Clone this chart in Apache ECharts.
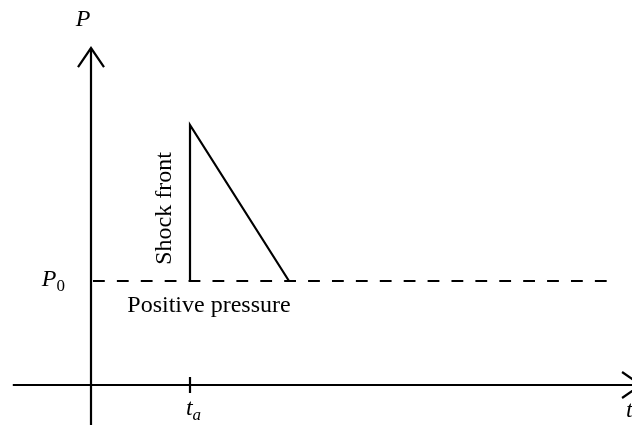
<!DOCTYPE html>
<html><head><meta charset="utf-8">
<script src="https://cdn.jsdelivr.net/npm/echarts@6/dist/echarts.min.js"></script>
<style>html,body{margin:0;padding:0;background:#fff}#c{width:632px;height:425px}</style>
</head><body><div id="c"></div>
<script>
// ---- data ----
const arrivalTime = 1;          // t_a
const positivePhaseEnd = 2;
const ambientPressure = 1;      // P0
const peakPressure = 2.5;
const profileT = [arrivalTime, arrivalTime, positivePhaseEnd];
const profileP = [ambientPressure, peakPressure, ambientPressure];
const ambientT = [0.02, 5.212];
const timeAxisExtent = [-0.79, 5.556];
const pressureAxisExtent = [-0.5, 3.24];
const tickValues = [arrivalTime];
const tickLabels = ['{v|t}{s|a}'];
const axisNames = ['t', 'P'];
const levelLabels = ['{v|P}{s|0}'];
const regionLabel = 'Positive pressure';
const frontLabel = 'Shock front';

// ---- drawing ----
const FONT = '"Liberation Serif", "Times New Roman", serif';
const FS = 24;
const LW = 2.2;
const richMath = {
  v: { fontFamily: FONT, fontSize: FS, fontStyle: 'italic', lineHeight: 24, fill: '#000' },
  s: { fontFamily: FONT, fontSize: 17, fontStyle: 'italic', lineHeight: 16, verticalAlign: 'top', padding: [10, 0, 0, 0], fill: '#000' }
};
const richNum = Object.assign({}, richMath, { s: Object.assign({}, richMath.s, { fontStyle: 'normal' }) });

const textItems = [
  { anchor: [0, pressureAxisExtent[1]], text: axisNames[1], dx: -8, dy: -28, align: 'center', italic: true },
  { anchor: [timeAxisExtent[1], 0], text: axisNames[0], dx: -15, dy: 26, align: 'left', italic: true },
  { anchor: [0, ambientPressure], text: levelLabels[0], dx: -26, dy: -1, align: 'right', rich: richNum },
  { anchor: [tickValues[0], 0], text: tickLabels[0], dx: 3.5, dy: 24, align: 'center', rich: richMath },
  { anchor: [arrivalTime, ambientPressure], text: regionLabel, dx: 19, dy: 25, align: 'center' },
  { anchor: [arrivalTime, (ambientPressure + peakPressure) / 2], text: frontLabel, dx: -25, dy: 5.5, align: 'center', rot: Math.PI / 2 }
];

const chart = echarts.init(document.getElementById('c'), null, { renderer: 'canvas' });
const black = '#000';
chart.setOption({
  animation: false,
  backgroundColor: '#fff',
  grid: { left: 0, right: 0, top: 0, bottom: 0, containLabel: false },
  xAxis: { type: 'value', min: -0.9192, max: 5.4646, show: false },
  yAxis: { type: 'value', min: -0.3846, max: 3.7019, show: false },
  series: [
    { type: 'line', silent: true, symbol: 'none', data: timeAxisExtent.map(t => [t, 0]),
      lineStyle: { color: black, width: LW } },
    { type: 'line', silent: true, symbol: 'none', data: pressureAxisExtent.map(p => [0, p]),
      lineStyle: { color: black, width: LW } },
    { type: 'line', silent: true, symbol: 'none', data: ambientT.map(t => [t, ambientPressure]),
      lineStyle: { color: black, width: LW, type: [11.8, 12.1] } },
    { type: 'line', silent: true, symbol: 'none', data: profileT.map((t, i) => [t, profileP[i]]),
      lineStyle: { color: black, width: LW, join: 'miter' } },
    { // arrow heads at the end of each axis
      type: 'custom', silent: true,
      data: [[timeAxisExtent[1], 0, timeAxisExtent[0], 0], [0, pressureAxisExtent[1], 0, pressureAxisExtent[0]]],
      renderItem: (params, api) => {
        const tip = api.coord([api.value(0), api.value(1)]);
        const base = api.coord([api.value(2), api.value(3)]);
        let dx = tip[0] - base[0], dy = tip[1] - base[1];
        const L = Math.hypot(dx, dy); dx /= L; dy /= L;
        const back = 19, half = 13;
        return { type: 'polyline', shape: { points: [
            [tip[0] - dx * back - dy * half, tip[1] - dy * back + dx * half],
            tip,
            [tip[0] - dx * back + dy * half, tip[1] - dy * back - dx * half]
          ] }, style: { stroke: black, lineWidth: LW, fill: null, lineJoin: 'miter' } };
      }
    },
    { // tick marks on time axis
      type: 'custom', silent: true,
      data: tickValues.map(t => [t, 0]),
      renderItem: (params, api) => {
        const p = api.coord([api.value(0), api.value(1)]);
        return { type: 'line', shape: { x1: p[0], y1: p[1] - 8, x2: p[0], y2: p[1] + 8 },
          style: { stroke: black, lineWidth: LW } };
      }
    },
    { // texts
      type: 'custom', silent: true,
      data: textItems.map(d => d.anchor),
      renderItem: (params, api) => {
        const d = textItems[params.dataIndex];
        const p = api.coord([api.value(0), api.value(1)]);
        const style = { text: d.text, fill: black, align: d.align, verticalAlign: 'middle',
          fontFamily: FONT, fontSize: FS, fontStyle: d.italic ? 'italic' : 'normal' };
        if (d.rich) style.rich = d.rich;
        return { type: 'text', x: p[0] + d.dx, y: p[1] + d.dy, rotation: d.rot || 0, style };
      }
    }
  ]
});
</script>
</body></html>
